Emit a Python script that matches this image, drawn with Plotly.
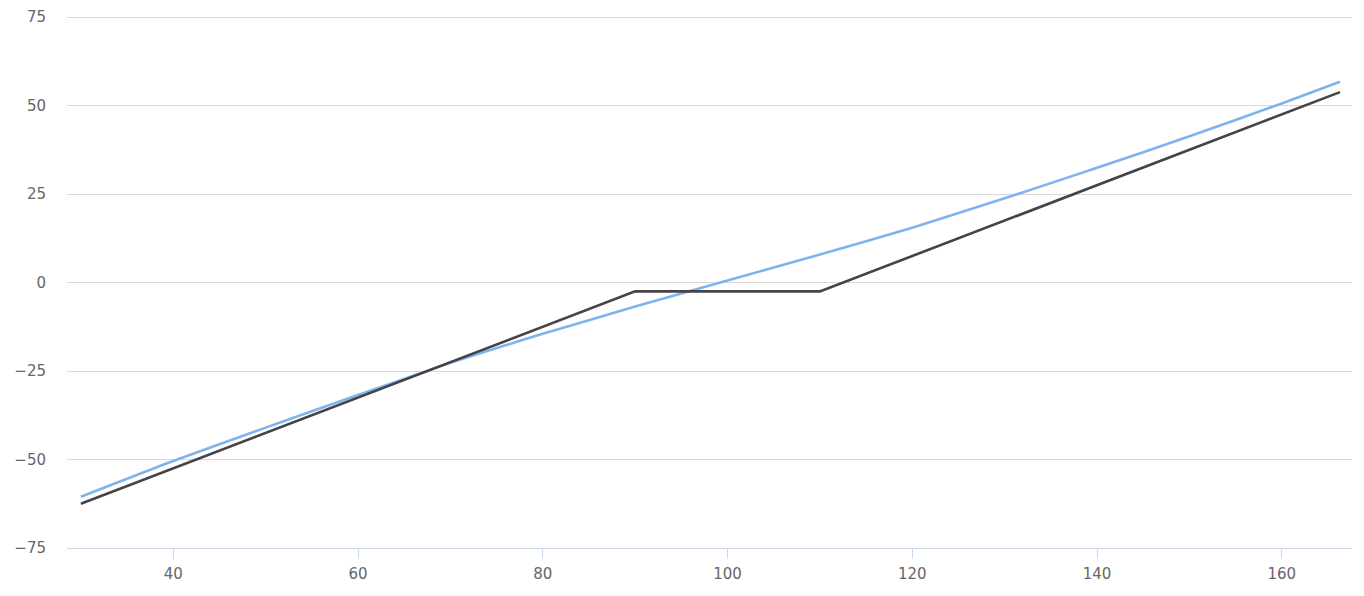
import plotly.graph_objects as go

# Underlying price (x) and position values (y)
price_now = [30, 40, 50, 60, 70, 80, 90, 100, 110, 120, 130, 140, 150, 160, 166.3]
value_now = [-60.5, -50.4, -41.0, -31.8, -22.7, -14.5, -6.8, 0.6, 7.9, 15.5, 23.8, 32.4, 41.3, 50.6, 56.7]

price_exp = [30, 90, 110, 166.3]
value_exp = [-62.5, -2.5, -2.5, 53.8]

x_ticks = [40, 60, 80, 100, 120, 140, 160]
y_ticks = [-75, -50, -25, 0, 25, 50, 75]

fig = go.Figure()
fig.add_trace(go.Scatter(x=price_now, y=value_now, mode="lines", line=dict(color="#7cb5ec", width=2.6, shape="spline", smoothing=0.6), name="Now"))
fig.add_trace(go.Scatter(x=price_exp, y=value_exp, mode="lines", line=dict(color="#434348", width=2.6), name="Expiry"))

fig.update_layout(
    width=1348, height=580,
    margin=dict(l=59, r=4, t=8, b=40),
    plot_bgcolor="white", paper_bgcolor="white",
    showlegend=False,
    font=dict(family="'DejaVu Sans', Verdana, sans-serif", size=15, color="#666666"),
)
fig.update_xaxes(
    range=[28.5, 167.6], tickvals=x_ticks, showgrid=False, zeroline=False,
    showline=True, linecolor="#ccd6eb", linewidth=1,
    ticks="outside", ticklen=10, tickcolor="#ccd6eb", tickwidth=1,
    ticklabelstandoff=2, automargin=False,
)
fig.update_yaxes(
    range=[-75, 75.3], tickvals=y_ticks, showgrid=True, gridcolor="#d9d9d9", gridwidth=1,
    zeroline=True, zerolinecolor="#d9d9d9", zerolinewidth=1, showline=False,
    ticklabelstandoff=20, automargin=False,
)
fig.write_html("out.html")
